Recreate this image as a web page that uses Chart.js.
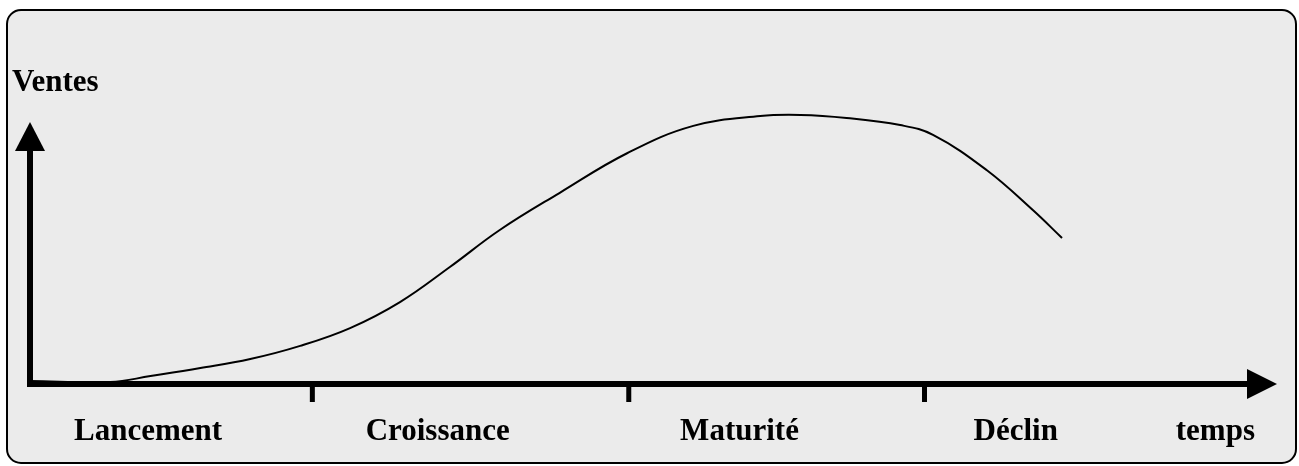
<!DOCTYPE html>
<html>
<head>
<meta charset="utf-8">
<script src="https://cdn.jsdelivr.net/npm/chart.js@4"></script>
<style>
  body { margin: 0; background: #ffffff; }
  #wrap { width: 1299px; height: 466px; }
</style>
</head>
<body>
<div id="wrap"><canvas id="cycleVie"></canvas></div>
<script>
// temps (0-100) et ventes (0-100)
const temps = [0, 6.6, 9.9, 14.0, 18.1, 22.2, 26.3, 30.4, 34.5, 38.6, 43.5, 49.1, 54.5, 60.0, 63.3, 67.1, 71.5, 74.2, 78.6, 82.4, 84.8];
const ventes = [1.1, 0.7, 2.9, 5.8, 9.1, 13.9, 20.4, 29.9, 42.7, 56.2, 69.7, 84.3, 94.2, 97.8, 98.2, 97.1, 94.5, 90.9, 78.1, 63.5, 53.3];

// phases du cycle de vie
const phases = ['Lancement', 'Croissance', 'Maturité', 'Déclin', 'temps'];
const phasePos = [9.7, 33.5, 58.3, 81.0, 97.4];   // centre des libellés
const phaseLimits = [23.2, 49.2, 73.5];           // petits traits sur l'axe

const labelFont = 'bold 31px "Liberation Serif", "Times New Roman", serif';

const cycleDecor = {
    id: 'cycleDecor',
    beforeDraw(chart) {
        const ctx = chart.ctx;
        ctx.save();
        ctx.beginPath();
        ctx.roundRect(7, 10, 1289, 453, 14);
        ctx.fillStyle = '#ebebeb';
        ctx.fill();
        ctx.lineWidth = 2;
        ctx.strokeStyle = '#000';
        ctx.stroke();
        ctx.restore();
    },
    afterDatasetsDraw(chart) {
        const ctx = chart.ctx;
        const x = chart.scales.x;
        const y = chart.scales.y;
        const x0 = x.getPixelForValue(0);
        const y0 = y.getPixelForValue(0);
        const top = chart.chartArea.top;

        ctx.save();
        ctx.fillStyle = '#000';
        ctx.strokeStyle = '#000';
        ctx.lineWidth = 6;

        // axe des ventes
        ctx.beginPath();
        ctx.moveTo(x0, y0 + 3);
        ctx.lineTo(x0, top + 40);
        ctx.stroke();
        ctx.beginPath();
        ctx.moveTo(x0 - 15, top + 41);
        ctx.lineTo(x0, top + 12);
        ctx.lineTo(x0 + 15, top + 41);
        ctx.closePath();
        ctx.fill();

        // axe du temps
        ctx.beginPath();
        ctx.moveTo(x0 - 3, y0);
        ctx.lineTo(x.right + 1, y0);
        ctx.stroke();
        ctx.beginPath();
        ctx.moveTo(x.right, y0 - 15);
        ctx.lineTo(x.right + 30, y0);
        ctx.lineTo(x.right, y0 + 15);
        ctx.closePath();
        ctx.fill();

        // séparations des phases
        phaseLimits.forEach(v => {
            const px = x.getPixelForValue(v);
            ctx.fillRect(px - 2.5, y0, 5, 18);
        });

        // libellés
        ctx.font = labelFont;
        ctx.textAlign = 'center';
        ctx.textBaseline = 'alphabetic';
        phases.forEach((p, i) => {
            ctx.fillText(p, x.getPixelForValue(phasePos[i]), y0 + 56);
        });

        ctx.textAlign = 'left';
        ctx.fillText('Ventes', x0 - 18, top - 19);
        ctx.restore();
    }
};

new Chart(document.getElementById('cycleVie'), {
    type: 'line',
    data: {
        datasets: [{
            data: temps.map((t, i) => ({ x: t, y: ventes[i] })),
            borderColor: '#000',
            borderWidth: 2,
            pointRadius: 0,
            fill: false,
            tension: 0.4,
            clip: false
        }]
    },
    options: {
        responsive: true,
        maintainAspectRatio: false,
        animation: false,
        layout: {
            padding: { left: 30, right: 52, top: 110, bottom: 82 }
        },
        scales: {
            x: { type: 'linear', min: 0, max: 100, display: false },
            y: { min: 0, max: 100, display: false }
        },
        plugins: {
            legend: { display: false },
            tooltip: { enabled: false }
        }
    },
    plugins: [cycleDecor]
});
</script>
</body>
</html>
